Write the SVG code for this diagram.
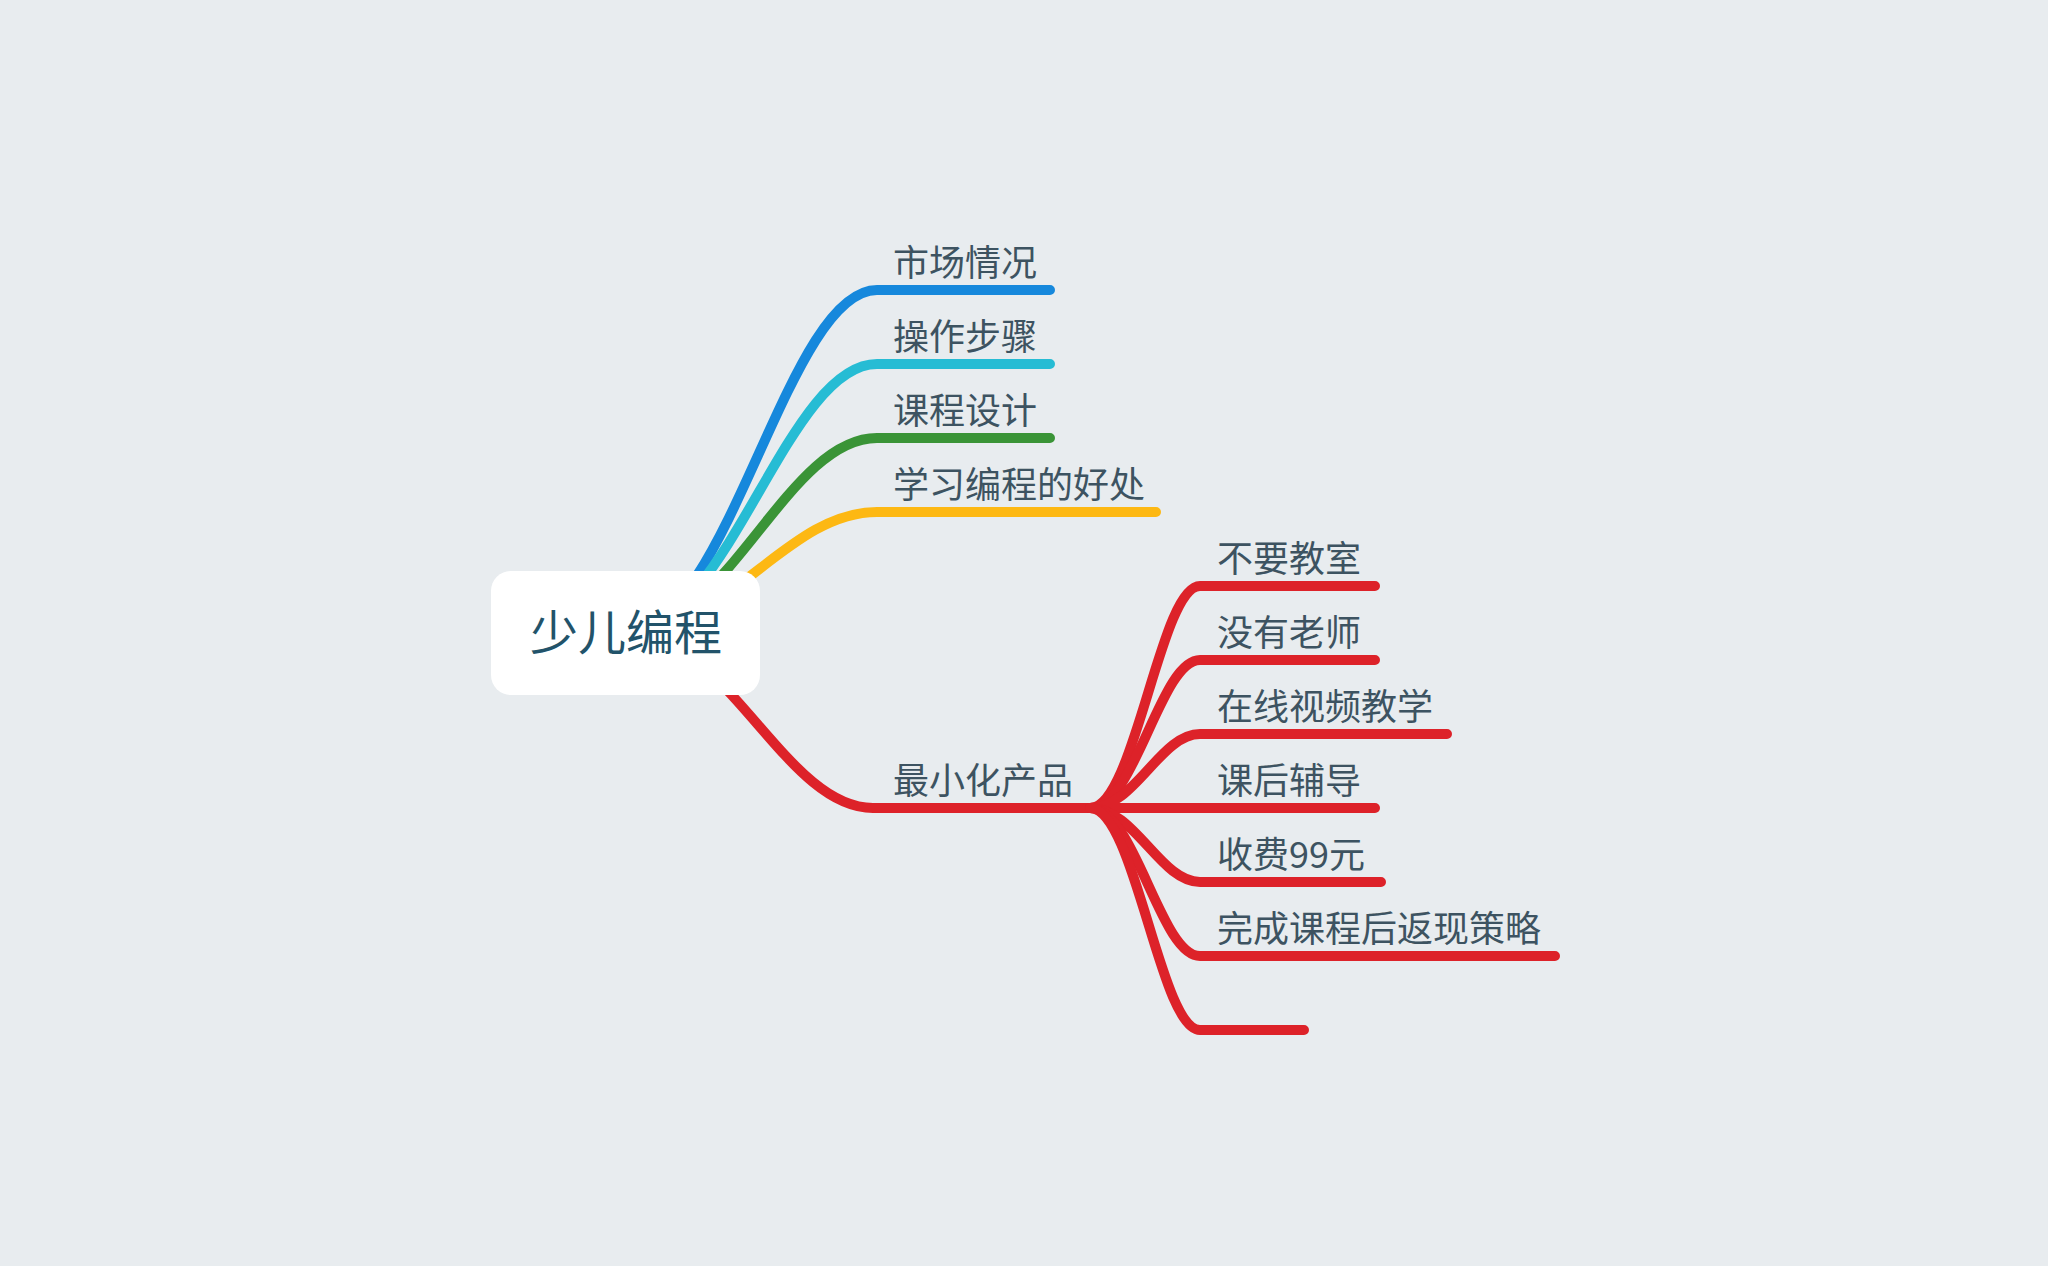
<svg xmlns="http://www.w3.org/2000/svg" width="2048" height="1266" viewBox="0 0 2048 1266">
<style>
.bg{fill:#E8ECEF}
.c{fill:none;stroke-width:10;stroke-linecap:round;stroke-linejoin:round}
.blue{stroke:#1688DC}
.cyan{stroke:#26BCD4}
.green{stroke:#3A9437}
.yellow{stroke:#FDB813}
.red{stroke:#DD2229}
.lbl{font-family:"Noto Sans CJK SC","Noto Sans",sans-serif;font-size:36px;fill:#3D5361}
.root{font-family:"Noto Sans CJK SC","Noto Sans",sans-serif;font-size:48px;fill:#22536A}
</style>
<rect class="bg" x="0" y="0" width="2048" height="1266"/>
<g id="connectors">
<path class="c blue" d="M625 632 C728 632 786 290 877 290 L1050 290"/>
<path class="c cyan" d="M625 632 C728 632 786 364 877 364 L1050 364"/>
<path class="c green" d="M625 632 C728 632 786 438 877 438 L1050 438"/>
<path class="c yellow" d="M625 632 C728 632 786 512 877 512 L1156 512"/>
<path class="c red" d="M625 632 C727 632 784 808 873 808 L1090 808"/>
<path class="c red" d="M1090 808 C1135 808 1160 586 1200 586 L1375 586"/>
<path class="c red" d="M1090 808 C1135 808 1160 660 1200 660 L1375 660"/>
<path class="c red" d="M1090 808 C1135 808 1160 734 1200 734 L1447 734"/>
<path class="c red" d="M1090 808 L1375 808"/>
<path class="c red" d="M1090 808 C1135 808 1160 882 1200 882 L1381 882"/>
<path class="c red" d="M1090 808 C1135 808 1160 956 1200 956 L1555 956"/>
<path class="c red" d="M1090 808 C1135 808 1160 1030 1200 1030 L1304 1030"/>
</g>
<g id="node-root">
<rect x="491" y="571" width="269" height="124" rx="20" ry="20" fill="#FFFFFF"/>
<text class="root" x="626" y="650" text-anchor="middle">少儿编程</text>
</g>
<g id="node-market"><text class="lbl" x="893" y="276">市场情况</text></g>
<g id="node-steps"><text class="lbl" x="893" y="350">操作步骤</text></g>
<g id="node-course"><text class="lbl" x="893" y="424">课程设计</text></g>
<g id="node-benefit"><text class="lbl" x="893" y="498">学习编程的好处</text></g>
<g id="node-mvp"><text class="lbl" x="893" y="794">最小化产品</text></g>
<g id="node-noroom"><text class="lbl" x="1217" y="572">不要教室</text></g>
<g id="node-noteacher"><text class="lbl" x="1217" y="646">没有老师</text></g>
<g id="node-online"><text class="lbl" x="1217" y="720">在线视频教学</text></g>
<g id="node-tutor"><text class="lbl" x="1217" y="794">课后辅导</text></g>
<g id="node-fee"><text class="lbl" x="1217" y="868">收费99元</text></g>
<g id="node-cashback"><text class="lbl" x="1217" y="942">完成课程后返现策略</text></g>
</svg>
